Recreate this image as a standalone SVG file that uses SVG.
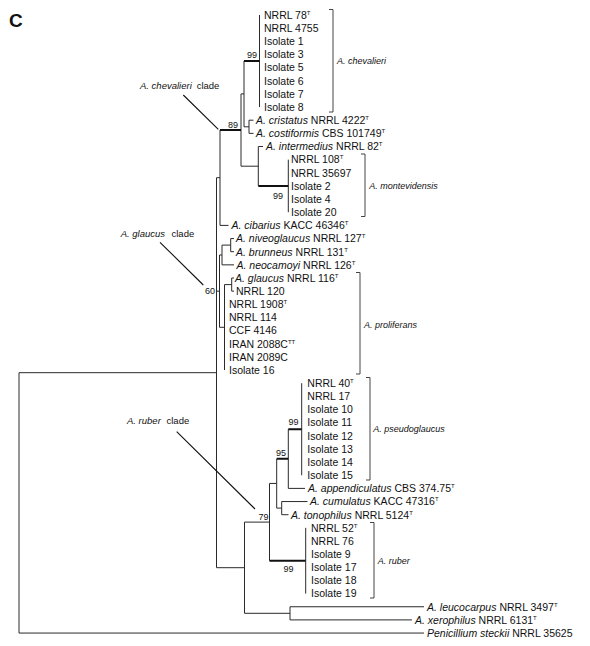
<svg xmlns="http://www.w3.org/2000/svg" width="590" height="646" viewBox="0 0 590 646">
<style>
text{font-family:"Liberation Sans",Arial,sans-serif;fill:#111}
.t{font-size:10.5px}
.i{font-style:italic}
.s{font-size:6px}
.b{font-size:9px}
.c{font-size:9.5px}
.bl{font-size:9px;font-style:italic}
.br{fill:none;stroke:#444;stroke-width:1}
.ln{fill:none;stroke:#2a2a2a;stroke-width:1}
.tk{fill:none;stroke:#111;stroke-width:2}
.pt{fill:none;stroke:#111;stroke-width:1.1}
</style>
<rect width="590" height="646" fill="#fff"/>
<text x="9" y="27" style="font-size:19px;font-weight:bold">C</text>

<g id="connectors">
<path class="ln" d="M259.5 15 V107.05 M249 120.2 V133.35 M249 120.2 H253.5 M249 133.35 H253.5 M244 61 V126.8 M244 126.8 H249 M241 93.9 V166.2 M241 93.9 H244 M241 166.2 H258.3 M258.3 146.5 V185.95 M258.3 146.5 H263 M288.3 159.65 V212.25 M220 130.05 V225.4 M220 225.4 H228.5 M216.5 177.7 V567.7 M216.5 177.7 H220 M216.5 291.15 H219.5 M216.5 567.7 H244.5 M230.7 238.55 V251.7 M230.7 238.55 H234 M230.7 251.7 H234 M222 245.1 V264.85 M222 245.1 H230.7 M222 264.85 H234 M231.7 278 V291.15 M231.7 278 H234 M231.7 291.15 H234 M224.5 284.6 V370.05 M224.5 284.6 H231.7 M219.5 255 V327.3 M219.5 255 H222 M219.5 327.3 H224.5 M19 372.7 V633.05 M19 372.7 H216.5 M19 633.05 H424 M301.7 383.2 V475.25 M288.3 429.2 V488.4 M288.3 488.4 H305 M281.7 501.55 V514.7 M281.7 501.55 H307.5 M281.7 514.7 H288.5 M276.7 458.8 V508.1 M276.7 508.1 H281.7 M269.5 483.45 V560.7 M269.5 483.45 H276.7 M305.7 527.85 V593.6 M244.5 522.1 V613.3 M244.5 522.1 H269.5 M244.5 613.3 H290 M290 606.75 V619.9 M290 606.75 H424 M290 619.9 H412"/>
<path class="tk" d="M244 61 H259.5 M220 130.05 H241 M258.3 185.95 H288.3 M288.3 429.2 H301.7 M276.7 458.8 H288.3 M269.5 560.7 H305.7"/>
<path class="pt" d="M183.3 95 L218.3 129.3 M160 242.3 L203.3 285 M176.7 431.7 L255 509"/>
</g>

<g id="support">
<text class="b" x="257" y="58" text-anchor="end">99</text>
<text class="b" x="238" y="128" text-anchor="end">89</text>
<text class="b" x="283" y="198.5" text-anchor="end">99</text>
<text class="b" x="215" y="293.5" text-anchor="end">60</text>
<text class="b" x="298.5" y="425" text-anchor="end">99</text>
<text class="b" x="286" y="455.5" text-anchor="end">95</text>
<text class="b" x="268.5" y="519.5" text-anchor="end">79</text>
<text class="b" x="293.5" y="571.5" text-anchor="end">99</text>
</g>

<g id="clade-labels">
<text class="c" x="140" y="88.5"><tspan class="i">A. chevalieri</tspan><tspan x="196.7">clade</tspan></text>
<text class="c" x="120.7" y="236.8"><tspan class="i">A. glaucus</tspan><tspan x="171.5">clade</tspan></text>
<text class="c" x="127" y="424"><tspan class="i">A. ruber</tspan><tspan x="166.5">clade</tspan></text>
</g>

<g id="bracket-chevalieri"><path class="br" d="M329 9.5 H333 V112 H329"/><text class="bl" x="337" y="64.3">A. chevalieri</text></g>
<g id="bracket-montevidensis"><path class="br" d="M361 154 H365 V216.5 H361"/><text class="bl" x="369.3" y="189">A. montevidensis</text></g>
<g id="bracket-proliferans"><path class="br" d="M356 272.5 H360 V374 H356"/><text class="bl" x="364" y="327.5">A. proliferans</text></g>
<g id="bracket-pseudoglaucus"><path class="br" d="M366 377.5 H370 V480 H366"/><text class="bl" x="373.3" y="431.5">A. pseudoglaucus</text></g>
<g id="bracket-ruber"><path class="br" d="M370 522.5 H374 V598 H370"/><text class="bl" x="377.7" y="563.5">A. ruber</text></g>

<g id="tip-nrrl78"><text class="t" x="264" y="18.8">NRRL 78<tspan class="s" dy="-4">T</tspan></text></g>
<g id="tip-nrrl4755"><text class="t" x="264" y="31.95">NRRL 4755</text></g>
<g id="tip-iso1"><text class="t" x="264" y="45.1">Isolate 1</text></g>
<g id="tip-iso3"><text class="t" x="264" y="58.25">Isolate 3</text></g>
<g id="tip-iso5"><text class="t" x="264" y="71.4">Isolate 5</text></g>
<g id="tip-iso6"><text class="t" x="264" y="84.55">Isolate 6</text></g>
<g id="tip-iso7"><text class="t" x="264" y="97.7">Isolate 7</text></g>
<g id="tip-iso8"><text class="t" x="264" y="110.85">Isolate 8</text></g>
<g id="tip-cristatus"><text class="t" x="256" y="124"><tspan class="i">A. cristatus</tspan> NRRL 4222<tspan class="s" dy="-4">T</tspan></text></g>
<g id="tip-costiformis"><text class="t" x="256" y="137.15"><tspan class="i">A. costiformis</tspan> CBS 101749<tspan class="s" dy="-4">T</tspan></text></g>
<g id="tip-intermedius"><text class="t" x="266" y="150.3"><tspan class="i">A. intermedius</tspan> NRRL 82<tspan class="s" dy="-4">T</tspan></text></g>
<g id="tip-nrrl108"><text class="t" x="291" y="163.45">NRRL 108<tspan class="s" dy="-4">T</tspan></text></g>
<g id="tip-nrrl35697"><text class="t" x="291" y="176.6">NRRL 35697</text></g>
<g id="tip-iso2"><text class="t" x="291" y="189.75">Isolate 2</text></g>
<g id="tip-iso4"><text class="t" x="291" y="202.9">Isolate 4</text></g>
<g id="tip-iso20"><text class="t" x="291" y="216.05">Isolate 20</text></g>
<g id="tip-cibarius"><text class="t" x="231.5" y="229.2"><tspan class="i">A. cibarius</tspan> KACC 46346<tspan class="s" dy="-4">T</tspan></text></g>
<g id="tip-niveoglaucus"><text class="t" x="236" y="242.35"><tspan class="i">A. niveoglaucus</tspan> NRRL 127<tspan class="s" dy="-4">T</tspan></text></g>
<g id="tip-brunneus"><text class="t" x="236" y="255.5"><tspan class="i">A. brunneus</tspan> NRRL 131<tspan class="s" dy="-4">T</tspan></text></g>
<g id="tip-neocamoyi"><text class="t" x="236.5" y="268.65"><tspan class="i">A. neocamoyi</tspan> NRRL 126<tspan class="s" dy="-4">T</tspan></text></g>
<g id="tip-glaucus"><text class="t" x="235" y="281.8"><tspan class="i">A. glaucus</tspan> NRRL 116<tspan class="s" dy="-4">T</tspan></text></g>
<g id="tip-nrrl120"><text class="t" x="236" y="294.95">NRRL 120</text></g>
<g id="tip-nrrl1908"><text class="t" x="229" y="308.1">NRRL 1908<tspan class="s" dy="-4">T</tspan></text></g>
<g id="tip-nrrl114"><text class="t" x="229" y="321.25">NRRL 114</text></g>
<g id="tip-ccf4146"><text class="t" x="229" y="334.4">CCF 4146</text></g>
<g id="tip-iran2088c"><text class="t" x="229" y="347.55">IRAN 2088C<tspan class="s" dy="-4">TT</tspan></text></g>
<g id="tip-iran2089c"><text class="t" x="229" y="360.7">IRAN 2089C</text></g>
<g id="tip-iso16"><text class="t" x="229" y="373.85">Isolate 16</text></g>
<g id="tip-nrrl40"><text class="t" x="307.3" y="387">NRRL 40<tspan class="s" dy="-4">T</tspan></text></g>
<g id="tip-nrrl17"><text class="t" x="307.3" y="400.15">NRRL 17</text></g>
<g id="tip-iso10"><text class="t" x="307.3" y="413.3">Isolate 10</text></g>
<g id="tip-iso11"><text class="t" x="307.3" y="426.45">Isolate 11</text></g>
<g id="tip-iso12"><text class="t" x="307.3" y="439.6">Isolate 12</text></g>
<g id="tip-iso13"><text class="t" x="307.3" y="452.75">Isolate 13</text></g>
<g id="tip-iso14"><text class="t" x="307.3" y="465.9">Isolate 14</text></g>
<g id="tip-iso15"><text class="t" x="307.3" y="479.05">Isolate 15</text></g>
<g id="tip-appendiculatus"><text class="t" x="308" y="492.2"><tspan class="i">A. appendiculatus</tspan> CBS 374.75<tspan class="s" dy="-4">T</tspan></text></g>
<g id="tip-cumulatus"><text class="t" x="310" y="505.35"><tspan class="i">A. cumulatus</tspan> KACC 47316<tspan class="s" dy="-4">T</tspan></text></g>
<g id="tip-tonophilus"><text class="t" x="291" y="518.5"><tspan class="i">A. tonophilus</tspan> NRRL 5124<tspan class="s" dy="-4">T</tspan></text></g>
<g id="tip-nrrl52"><text class="t" x="311" y="531.65">NRRL 52<tspan class="s" dy="-4">T</tspan></text></g>
<g id="tip-nrrl76"><text class="t" x="311" y="544.8">NRRL 76</text></g>
<g id="tip-iso9"><text class="t" x="311" y="557.95">Isolate 9</text></g>
<g id="tip-iso17"><text class="t" x="311" y="571.1">Isolate 17</text></g>
<g id="tip-iso18"><text class="t" x="311" y="584.25">Isolate 18</text></g>
<g id="tip-iso19"><text class="t" x="311" y="597.4">Isolate 19</text></g>
<g id="tip-leucocarpus"><text class="t" x="427" y="610.55"><tspan class="i">A. leucocarpus</tspan> NRRL 3497<tspan class="s" dy="-4">T</tspan></text></g>
<g id="tip-xerophilus"><text class="t" x="415" y="623.7"><tspan class="i">A. xerophilus</tspan> NRRL 6131<tspan class="s" dy="-4">T</tspan></text></g>
<g id="tip-steckii"><text class="t" x="427" y="636.85"><tspan class="i">Penicillium steckii</tspan> NRRL 35625</text></g>
</svg>
